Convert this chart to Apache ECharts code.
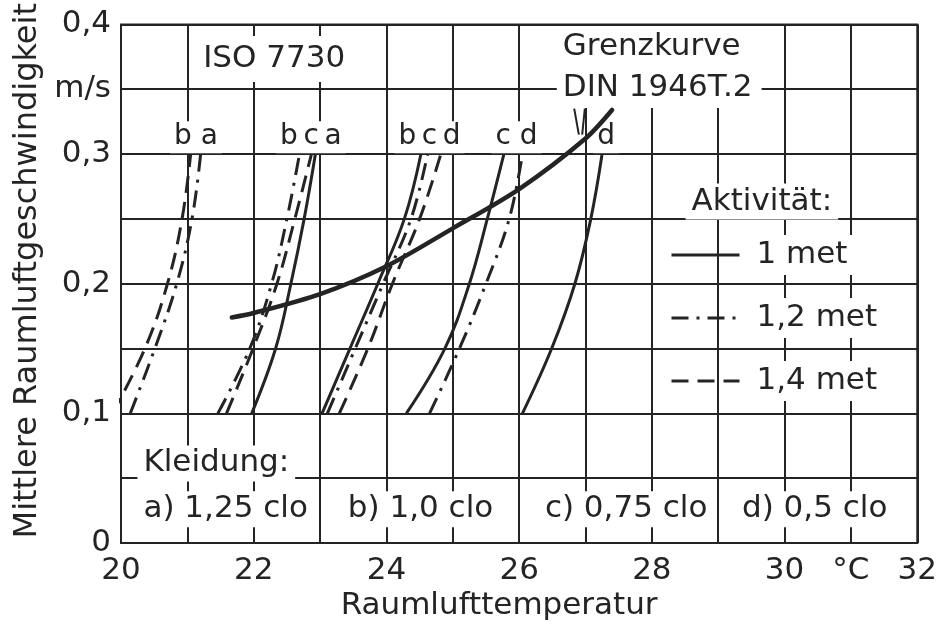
<!DOCTYPE html>
<html>
<head>
<meta charset="utf-8">
<title>Raumluftgeschwindigkeit / Raumlufttemperatur</title>
<script src="https://cdn.jsdelivr.net/npm/echarts@6/dist/echarts.min.js"></script>
<style>
  html, body { margin: 0; padding: 0; background: #fff; }
  #chart { width: 940px; height: 632px; }
</style>
</head>
<body>
<div id="chart"></div>
<script>
// Luftgeschwindigkeit (m/s) - gleiche Stufen fuer alle Kurven
const speedLevels = [0.1, 0.15, 0.2, 0.25, 0.3]

// Raumlufttemperatur (°C) je Kurve: Kleidung a..d, Aktivitaet 1 / 1,2 / 1,4 met
const temp_b_14 = [19.87, 20.36, 20.70, 20.92, 21.05]
const temp_a_12 = [20.14, 20.51, 20.84, 21.07, 21.20]
const temp_b_12 = [21.46, 21.94, 22.27, 22.50, 22.69]
const temp_c_14 = [21.59, 21.99, 22.35, 22.62, 22.87]
const temp_a_10 = [21.97, 22.33, 22.56, 22.76, 22.93]
const temp_b_10 = [23.03, 23.45, 23.87, 24.27, 24.52]
const temp_c_12 = [23.11, 23.53, 23.95, 24.37, 24.62]
const temp_d_14 = [23.29, 23.72, 24.09, 24.50, 24.82]
const temp_c_10 = [24.30, 24.88, 25.25, 25.52, 25.77]
const temp_d_12 = [24.65, 25.10, 25.50, 25.85, 26.05]
const temp_d_10 = [26.05, 26.49, 26.84, 27.08, 27.25]

// Grenzkurve DIN 1946 T.2
const grenzTemp = [21.67, 22.0, 23.0, 24.0, 25.0, 26.0, 27.0, 27.4]
const grenzSpeed = [0.174, 0.1774, 0.192, 0.2135, 0.2427, 0.273, 0.312, 0.334]

// Hinweisstriche unter "DIN 1946T.2"
const leaderTemp = [[26.83, 26.90], [26.99, 26.95]]
const leaderSpeed = [0.335, 0.315]

// Achsbeschriftung
const xTickLabels = ['20', '', '22', '', '24', '', '26', '', '28', '', '30', '°C', '32']
const yTickLabels = ['0', '', '0,1', '', '0,2', '', '0,3', 'm/s', '0,4']

const activities = ['1 met', '1,2 met', '1,4 met']

// Kennbuchstaben oben an den Kurven
const letterGroups = ['b a', 'b\u2009c\u2009a', 'b\u2009c\u2009d', 'c d', 'd']
const letterTemp = [21.13, 22.86, 24.65, 25.96, 27.31]
const letterSpeed = 0.313

const curves = [
  { act: '1,4 met', temps: temp_b_14 },
  { act: '1,2 met', temps: temp_a_12 },
  { act: '1,2 met', temps: temp_b_12 },
  { act: '1,4 met', temps: temp_c_14 },
  { act: '1 met', temps: temp_a_10 },
  { act: '1 met', temps: temp_b_10 },
  { act: '1,2 met', temps: temp_c_12 },
  { act: '1,4 met', temps: temp_d_14 },
  { act: '1 met', temps: temp_c_10 },
  { act: '1,2 met', temps: temp_d_12 },
  { act: '1 met', temps: temp_d_10 }
]

// Texte im Diagramm (Anker = linke Kante des weissen Kastens)
const notes = [
  { text: 'ISO 7730', x: 21.14, y: 0.3733, pad: [8, 6, 2, 6] },
  { text: 'Grenzkurve\nDIN 1946T.2', x: 26.56, y: 0.3671, pad: [0, 9, 0, 6], lh: 41 },
  { text: 'Aktivität:', x: 28.50, y: 0.2634 },
  { text: 'Kleidung:', x: 20.24, y: 0.0614 },
  { text: 'a) 1,25 clo', x: 20.24, y: 0.0261 },
  { text: 'b) 1,0 clo', x: 23.32, y: 0.0261 },
  { text: 'c) 0,75 clo', x: 26.29, y: 0.0261 },
  { text: 'd) 0,5 clo', x: 29.26, y: 0.0261 }
]

const ink = '#242424'
const font = 'DejaVu Sans'
const dashTypes = {
  '1 met': 'solid',
  '1,2 met': [17, 8, 3, 8],
  '1,4 met': [17, 9]
}

const chart = echarts.init(document.getElementById('chart'), null, { renderer: 'canvas' })

let series = []

curves.forEach(c => {
  series.push({
    name: c.act,
    type: 'line',
    smooth: 0.4,
    symbol: 'none',
    silent: true,
    z: 3,
    lineStyle: { color: ink, width: 3, type: dashTypes[c.act], cap: 'butt' },
    itemStyle: { color: ink },
    data: speedLevels.map((v, i) => [c.temps[i], v])
  })
})

series.push({
  name: 'Grenzkurve',
  type: 'line',
  smooth: 0.3,
  symbol: 'none',
  silent: true,
  z: 4,
  lineStyle: { color: ink, width: 4.5, cap: 'round' },
  data: grenzTemp.map((t, i) => [t, grenzSpeed[i]])
})

leaderTemp.forEach(pair => {
  series.push({
    type: 'line',
    symbol: 'none',
    silent: true,
    z: 4,
    lineStyle: { color: ink, width: 2 },
    data: pair.map((t, i) => [t, leaderSpeed[i]])
  })
})

// weisse Textkaesten
series.push({
  type: 'scatter',
  symbolSize: 1,
  silent: true,
  z: 2,
  itemStyle: { color: 'transparent', opacity: 1 },
  data: notes.map(n => ({
    value: [n.x, n.y],
    label: {
      show: true,
      position: 'right',
      distance: 0,
      align: 'left',
      verticalAlign: 'middle',
      formatter: n.text,
      fontFamily: font,
      fontSize: 31,
      lineHeight: n.lh || 36,
      color: ink,
      opacity: 1,
      backgroundColor: '#fff',
      padding: n.pad || [0, 6]
    }
  }))
})

series.push({
  type: 'scatter',
  symbolSize: 1,
  silent: true,
  z: 2,
  itemStyle: { color: 'transparent', opacity: 1 },
  data: letterGroups.map((g, i) => ({
    value: [letterTemp[i], letterSpeed],
    label: {
      show: true,
      position: 'inside',
      formatter: g,
      fontFamily: font,
      fontSize: 28,
      lineHeight: 32,
      color: ink,
      opacity: 1,
      backgroundColor: '#fff',
      padding: [0, 4]
    }
  }))
})

let option = {
  animation: false,
  backgroundColor: '#fff',
  grid: {
    left: 121,
    right: 21,
    top: 22,
    bottom: 89,
    show: true,
    borderColor: ink,
    borderWidth: 2
  },
  legend: {
    data: activities,
    orient: 'vertical',
    left: 670,
    top: 235,
    padding: 0,
    itemWidth: 68,
    itemHeight: 14,
    itemGap: 23,
    selectedMode: false,
    itemStyle: { opacity: 0 },
    lineStyle: { width: 3 },
    textStyle: {
      fontFamily: font,
      fontSize: 31,
      lineHeight: 36,
      color: ink,
      backgroundColor: '#fff',
      padding: [2, 6, 2, 12]
    }
  },
  xAxis: {
    type: 'value',
    min: 20,
    max: 32,
    interval: 1,
    name: 'Raumlufttemperatur',
    nameLocation: 'middle',
    nameGap: 46,
    nameTextStyle: { fontFamily: font, fontSize: 31, color: ink, padding: [0, 40, 0, 0] },
    axisLine: { show: false },
    axisTick: { show: false },
    axisLabel: {
      margin: 12,
      fontFamily: font,
      fontSize: 31,
      color: ink,
      formatter: v => xTickLabels[Math.round(v - 20)] || ''
    },
    splitLine: { show: true, lineStyle: { color: ink, width: 2 } }
  },
  yAxis: {
    type: 'value',
    min: 0,
    max: 0.4,
    interval: 0.05,
    name: 'Mittlere Raumluftgeschwindigkeit',
    nameLocation: 'middle',
    nameGap: 77,
    nameTextStyle: { fontFamily: font, fontSize: 32, color: ink, padding: [0, 0, 0, 26] },
    axisLine: { show: false },
    axisTick: { show: false },
    axisLabel: {
      margin: 10,
      fontFamily: font,
      fontSize: 31,
      color: ink,
      formatter: v => yTickLabels[Math.round(v / 0.05)] || ''
    },
    splitLine: { show: true, lineStyle: { color: ink, width: 2 } }
  },
  series: series
}

chart.setOption(option)
</script>
</body>
</html>
